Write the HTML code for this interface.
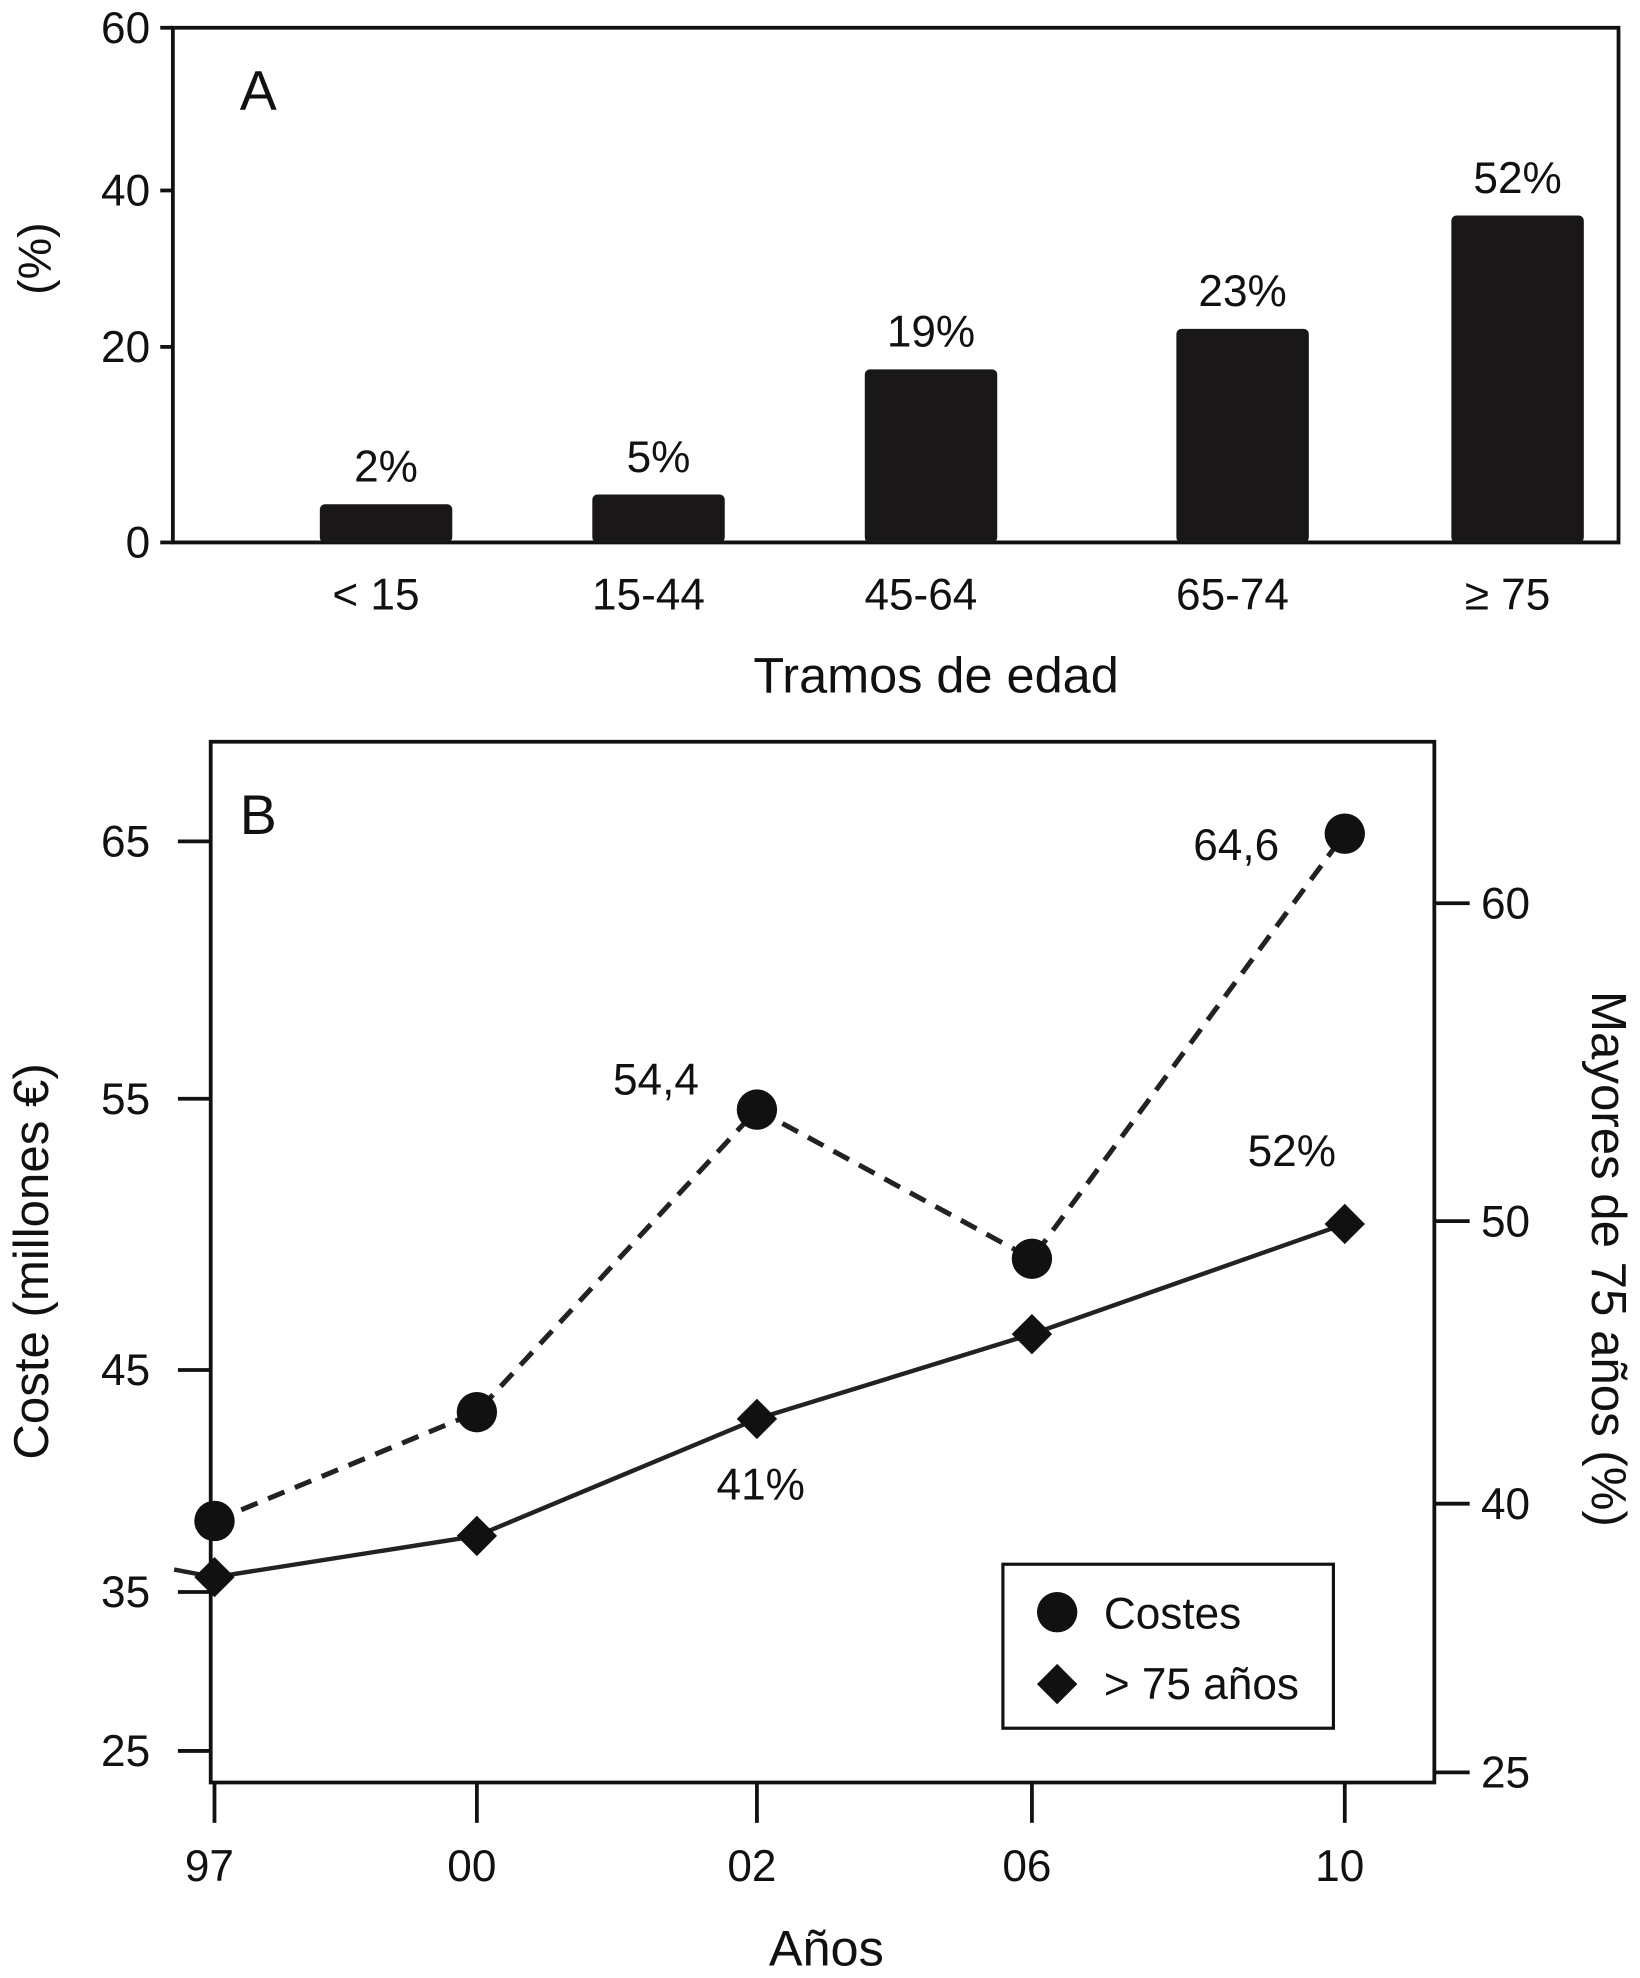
<!DOCTYPE html>
<html><head><meta charset="utf-8"><style>
html,body{margin:0;padding:0;background:#fff;}
svg{display:block;font-family:"Liberation Sans",Arial,sans-serif;}
</style></head><body>
<svg id="chart" width="1640" height="1978" viewBox="0 0 1300 1568" xmlns="http://www.w3.org/2000/svg">
<g id="panelA"></g>
<g id="panelB"></g>
</svg>
<script>
// Panel A data
const ageCategories = ["< 15", "15-44", "45-64", "65-74", "\u2265 75"];
const barHeights = [3.9, 4.9, 17.7, 22.3, 36.8];
const barLabels = ["2%", "5%", "19%", "23%", "52%"];
const aTicks = [0, 20, 40, 60];
// Panel B data
const years = ["97", "00", "02", "06", "10"];
const costValues = [38.2, 43.1, 54.6, 49.1, 65.3];
const elderValues = [35.9, 38.2, 43.0, 46.0, 49.9];
const leftTicks = [25, 35, 45, 55, 65];
const rightTicks = [25, 40, 50, 60];
const costLabels = [null, null, "54,4", null, "64,6"];
const elderLabels = [null, null, "41%", null, "52%"];

const NS = "http://www.w3.org/2000/svg";
function mk(parent, tag, attrs, text) {
  const e = document.createElementNS(NS, tag);
  for (const k in attrs) e.setAttribute(k, attrs[k]);
  if (text != null) e.textContent = text;
  parent.appendChild(e);
  return e;
}
function piecewise(vals, px) {
  return v => {
    for (let i = 0; i < vals.length - 1; i++) {
      if (v <= vals[i + 1] || i === vals.length - 2) {
        const t = (v - vals[i]) / (vals[i + 1] - vals[i]);
        return px[i] + t * (px[i + 1] - px[i]);
      }
    }
  };
}

// ---------- Panel A ----------
const A = document.getElementById("panelA");
const aL = 137, aR = 1283, aT = 22, aB = 430;
const ay = piecewise([0, 20, 40, 60], [430, 275, 151, 22]);
const ax = i => [306, 522, 738, 985, 1203][i];
let e;
e = mk(A, "path", {d: `M${aL} ${aT} H${aR} V${aB} H${aL} Z`, fill: "none", stroke: "#111", "stroke-width": 3});


aTicks.forEach(t => {
  const y = ay(t);
  e = mk(A, "line", {x1: aL - 10, x2: aL, y1: y, y2: y, stroke: "#111", "stroke-width": 3});
  
  
  e = mk(A, "text", {x: aL - 18, y: y + 12, "text-anchor": "end", "font-size": 35, fill: "#111"}, String(t));
  
  
});
barHeights.forEach((v, i) => {
  const cx = ax(i), w = 105, y = ay(v);
  e = mk(A, "rect", {x: cx - w / 2, y: y, width: w, height: aB - y, rx: 4, fill: "#1a1718"});
  
  
  e = mk(A, "text", {x: cx, y: y - 18, "text-anchor": "middle", "font-size": 35, fill: "#111"}, barLabels[i]);
  
  
  e = mk(A, "text", {x: cx - 8, y: 483, "text-anchor": "middle", "font-size": 35, fill: "#111"}, ageCategories[i]);
  
  
});
e = mk(A, "text", {x: 742, y: 549, "text-anchor": "middle", "font-size": 40, fill: "#111"}, "Tramos de edad");


e = mk(A, "text", {x: 0, y: 0, transform: "translate(40 205) rotate(-90)", "text-anchor": "middle", "font-size": 37, fill: "#111"}, "(%)");


e = mk(A, "text", {x: 190, y: 87, "font-size": 44, fill: "#111"}, "A");



// ---------- Panel B ----------
const B = document.getElementById("panelB");
const bL = 167, bR = 1137, bT = 588, bB = 1413;
const bx = i => [170, 378, 600, 818, 1066][i];
const yLeft = piecewise([25, 35, 45, 55, 65], [1388, 1262, 1086, 871, 667]);
const yRight = piecewise([25, 40, 50, 60], [1405, 1192, 968, 716]);
e = mk(B, "path", {d: `M${bL} ${bT} H${bR} V${bB} H${bL} Z`, fill: "none", stroke: "#111", "stroke-width": 3});


leftTicks.forEach(t => {
  const y = yLeft(t);
  e = mk(B, "line", {x1: bL - 26, x2: bL, y1: y, y2: y, stroke: "#111", "stroke-width": 3});
  
  
  e = mk(B, "text", {x: 119, y: y + 12, "text-anchor": "end", "font-size": 35, fill: "#111"}, String(t));
  
  
});
rightTicks.forEach(t => {
  const y = yRight(t);
  e = mk(B, "line", {x1: bR, x2: bR + 28, y1: y, y2: y, stroke: "#111", "stroke-width": 3});
  
  
  e = mk(B, "text", {x: bR + 37, y: y + 12, "font-size": 35, fill: "#111"}, String(t));
  
  
});
years.forEach((yr, i) => {
  const x = bx(i);
  e = mk(B, "line", {x1: x, x2: x, y1: bB, y2: bB + 32, stroke: "#111", "stroke-width": 3});
  
  
  e = mk(B, "text", {x: x - 4, y: 1491, "text-anchor": "middle", "font-size": 35, fill: "#111"}, yr);
  
  
});
const ePts = elderValues.map((v, i) => [bx(i), yRight(v)]);
e = mk(B, "polyline", {points: `${ePts[0][0] - 32},${ePts[0][1] - 6} ` + ePts.map(p => p.join(",")).join(" "), fill: "none", stroke: "#222", "stroke-width": 3.5});


const cPts = costValues.map((v, i) => [bx(i), yLeft(v)]);
e = mk(B, "polyline", {points: cPts.map(p => p.join(",")).join(" "), fill: "none", stroke: "#222", "stroke-width": 4, "stroke-dasharray": "14 9"});


ePts.forEach(p => {
  const s = 16;
  e = mk(B, "path", {d: `M${p[0]} ${p[1] - s} L${p[0] + s} ${p[1]} L${p[0]} ${p[1] + s} L${p[0] - s} ${p[1]} Z`, fill: "#111"});
  
  
});
cPts.forEach(p => {
  e = mk(B, "circle", {cx: p[0], cy: p[1], r: 16, fill: "#111"});
  
  
});
costLabels.forEach((lab, i) => {
  if (!lab) return;
  const p = cPts[i];
  e = mk(B, "text", {x: p[0] - (i === 4 ? 52 : 46), y: p[1] - 12 + (i === 4 ? 33 : 0), "text-anchor": "end", "font-size": 35, fill: "#111"}, lab);
  
  
});
elderLabels.forEach((lab, i) => {
  if (!lab) return;
  const p = ePts[i];
  const up = i === 4;
  e = mk(B, "text", {x: p[0] + (up ? -42 : 3), y: up ? p[1] - 46 : p[1] + 64, "text-anchor": "middle", "font-size": 35, fill: "#111"}, lab);
  
  
});
e = mk(B, "text", {x: 190, y: 661, "font-size": 44, fill: "#111"}, "B");


e = mk(B, "text", {x: 655, y: 1558, "text-anchor": "middle", "font-size": 40, fill: "#111"}, "Años");


e = mk(B, "text", {x: 0, y: 0, transform: "translate(38 1000) rotate(-90)", "text-anchor": "middle", "font-size": 39, fill: "#111"}, "Coste (millones €)");


e = mk(B, "text", {x: 0, y: 0, transform: "translate(1262 998) rotate(90)", "text-anchor": "middle", "font-size": 39, fill: "#111"}, "Mayores de 75 años (%)");


const lg = mk(B, "g", {});


e = mk(lg, "rect", {x: 795, y: 1240, width: 262, height: 130, fill: "#fff", stroke: "#111", "stroke-width": 2.5});


e = mk(lg, "circle", {cx: 838, cy: 1278, r: 16, fill: "#111"});


e = mk(lg, "text", {x: 875, y: 1291, "font-size": 35, fill: "#111"}, "Costes");


e = mk(lg, "path", {d: "M838 1319 L854 1335 L838 1351 L822 1335 Z", fill: "#111"});


e = mk(lg, "text", {x: 875, y: 1347, "font-size": 35, fill: "#111"}, "> 75 años");


</script>
</body></html>
